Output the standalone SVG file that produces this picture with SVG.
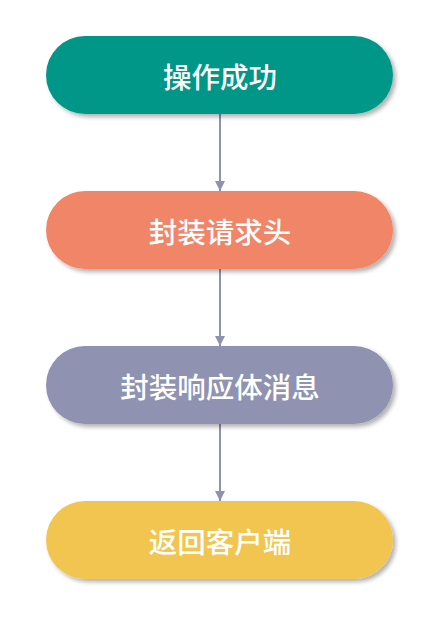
<svg xmlns="http://www.w3.org/2000/svg" width="442" height="628" viewBox="0 0 442 628">
<defs>
<style>
.node-text{font-family:"Noto Sans CJK SC","Noto Sans",sans-serif;font-size:28.5px;font-weight:500;fill:#ffffff;text-anchor:middle;dominant-baseline:central}
.conn{stroke:#8f91b0;stroke-width:2;fill:none}
</style>
<filter id="sh" x="-10%" y="-20%" width="125%" height="150%">
<feDropShadow dx="3" dy="3" stdDeviation="2" flood-color="#000" flood-opacity="0.3"/>
</filter>
<marker id="arr" viewBox="0 0 10 10" refX="10" refY="5" markerWidth="10" markerHeight="10" markerUnits="userSpaceOnUse" orient="auto">
<path d="M0,0 L10,5 L0,10 Z" fill="#8f91b0"/>
</marker>
</defs>
<rect width="442" height="628" fill="#ffffff"/>
<g id="connectors">
<line class="conn" x1="220" y1="114" x2="220" y2="191" marker-end="url(#arr)"/>
<line class="conn" x1="220" y1="269" x2="220" y2="346" marker-end="url(#arr)"/>
<line class="conn" x1="220" y1="424" x2="220" y2="501" marker-end="url(#arr)"/>
</g>
<g id="node1">
<rect x="46" y="36" width="347" height="78" rx="39" fill="#009688" filter="url(#sh)"/>
<text class="node-text" x="220" y="75">操作成功</text>
</g>
<g id="node2">
<rect x="46" y="191" width="347" height="78" rx="39" fill="#f08567" filter="url(#sh)"/>
<text class="node-text" x="220" y="230">封装请求头</text>
</g>
<g id="node3">
<rect x="46" y="346" width="347" height="78" rx="39" fill="#8f93b1" filter="url(#sh)"/>
<text class="node-text" x="220" y="385">封装响应体消息</text>
</g>
<g id="node4">
<rect x="46" y="501" width="347" height="78" rx="39" fill="#f1c550" filter="url(#sh)"/>
<text class="node-text" x="220" y="540">返回客户端</text>
</g>
</svg>
